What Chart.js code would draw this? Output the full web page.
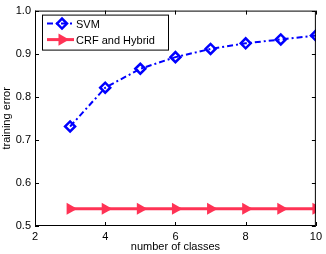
<!DOCTYPE html>
<html>
<head>
<meta charset="utf-8">
<script src="https://cdn.jsdelivr.net/npm/chart.js@4/dist/chart.umd.min.js"></script>
<style>
  html, body { margin: 0; padding: 0; background: #fff; }
  #wrap { width: 326px; height: 254px; }
</style>
</head>
<body>
<div id="wrap"><canvas id="chart" width="326" height="254"></canvas></div>
<script>
const classes = [3, 4, 5, 6, 7, 8, 9, 10];
const svmError = [0.731, 0.821, 0.865, 0.892, 0.911, 0.924, 0.933, 0.942];
const hybridError = [0.54, 0.54, 0.54, 0.54, 0.54, 0.54, 0.54, 0.54];
const xTicks = [2, 4, 6, 8, 10];
const yTicks = [0.5, 0.6, 0.7, 0.8, 0.9, 1];

const FONT = "'Liberation Sans', Arial, sans-serif";

// box, inward ticks and legend, drawn after the datasets
const matlabFrame = {
  id: "matlabFrame",
  afterDatasetsDraw(chart) {
    const { ctx, chartArea: a, scales } = chart;
    ctx.save();
    ctx.strokeStyle = "#000";
    ctx.lineWidth = 1;
    ctx.strokeRect(a.left + 0.5, a.top + 0.5, a.right - a.left - 1, a.bottom - a.top - 1);
    ctx.beginPath();
    xTicks.forEach((v) => {
      const x = Math.round(scales.x.getPixelForValue(v)) + 0.5;
      ctx.moveTo(x, a.bottom); ctx.lineTo(x, a.bottom - 4);
      ctx.moveTo(x, a.top); ctx.lineTo(x, a.top + 4);
    });
    yTicks.forEach((v) => {
      const y = Math.round(scales.y.getPixelForValue(v)) + 0.5;
      ctx.moveTo(a.left, y); ctx.lineTo(a.left + 4, y);
      ctx.moveTo(a.right, y); ctx.lineTo(a.right - 4, y);
    });
    ctx.stroke();

    // legend
    const lx = a.left + 7, ly = a.top + 4, lw = 126, lh = 35;
    ctx.fillStyle = "#fff";
    ctx.fillRect(lx, ly, lw, lh);
    ctx.strokeRect(lx + 0.5, ly + 0.5, lw, lh);
    ctx.font = "11px " + FONT;
    ctx.textBaseline = "middle";
    chart.data.datasets.forEach((ds, i) => {
      const y = ly + 9 + i * 16;
      ctx.save();
      ctx.strokeStyle = ds.borderColor;
      ctx.lineWidth = ds.borderWidth;
      ctx.setLineDash(ds.borderDash || []);
      ctx.beginPath();
      ctx.moveTo(lx + 5, y); ctx.lineTo(lx + 32, y);
      ctx.stroke();
      ctx.setLineDash([]);
      ctx.fillStyle = ds.pointBackgroundColor;
      ctx.lineWidth = ds.pointBorderWidth;
      Chart.helpers.drawPoint(ctx, {
        pointStyle: ds.pointStyle, rotation: ds.pointRotation || 0,
        radius: ds.pointRadius, borderWidth: ds.pointBorderWidth
      }, lx + 20, y);
      ctx.restore();
      ctx.fillStyle = "#000";
      ctx.fillText(ds.label, lx + 34, y + 1);
    });
    ctx.restore();
  }
};

new Chart(document.getElementById("chart"), {
  type: "line",
  data: {
    datasets: [
      {
        label: "SVM",
        data: classes.map((c, i) => ({ x: c, y: svmError[i] })),
        borderColor: "#0000ff",
        borderWidth: 2,
        borderDash: [6, 3, 2, 3],
        pointStyle: "rectRot",
        pointRadius: 5,
        pointBorderWidth: 2.5,
        pointBorderColor: "#0000ff",
        pointBackgroundColor: "rgba(255,255,255,0)",
      },
      {
        label: "CRF and Hybrid",
        data: classes.map((c, i) => ({ x: c, y: hybridError[i] })),
        borderColor: "#ff3355",
        borderWidth: 3,
        pointStyle: "triangle",
        pointRotation: 90,
        pointRadius: 5,
        pointBorderWidth: 2,
        pointBorderColor: "#ff3355",
        pointBackgroundColor: "#ff3355",
      },
    ],
  },
  options: {
    responsive: false,
    animation: false,
    layout: { padding: { top: 4, right: 7, left: 0, bottom: 0 } },
    plugins: { legend: { display: false }, tooltip: { enabled: false } },
    scales: {
      x: {
        type: "linear",
        min: 2,
        max: 10,
        afterBuildTicks: (s) => { s.ticks = xTicks.map((v) => ({ value: v })); },
        afterFit: (s) => { s.height = 28; },
        grid: { display: false, drawTicks: false },
        border: { display: false },
        ticks: { color: "#000", font: { family: FONT, size: 11 }, padding: 4, maxRotation: 0 },
        title: { display: true, text: "number of classes", color: "#000", font: { family: FONT, size: 11 }, padding: { top: 0, bottom: 0 } },
      },
      y: {
        min: 0.5,
        max: 1,
        afterBuildTicks: (s) => { s.ticks = yTicks.map((v) => ({ value: v })); },
        afterFit: (s) => { s.width = 35; },
        grid: { display: false, drawTicks: false },
        border: { display: false },
        ticks: { color: "#000", font: { family: FONT, size: 11 }, padding: 4 },
        title: { display: true, text: "training error", color: "#000", font: { family: FONT, size: 11 }, padding: { top: 0, bottom: 0 } },
      },
    },
  },
  plugins: [matlabFrame],
});
</script>
</body>
</html>
